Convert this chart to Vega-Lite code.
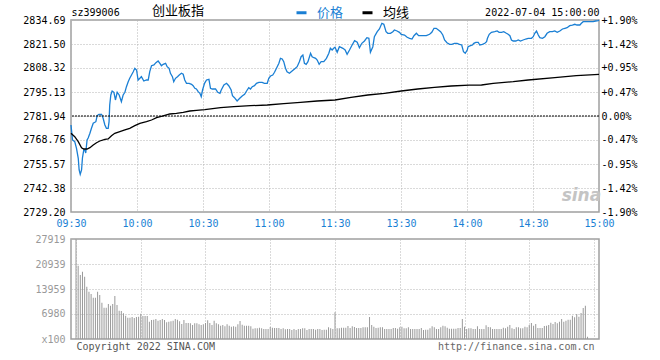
{
  "$schema": "https://vega.github.io/schema/vega-lite/v6.json",
  "padding": {"left": 22, "top": 3, "right": 5, "bottom": 0},
  "background": "white",
  "spacing": 4,
  "config": {
    "view": {"stroke": "#a0a0a0", "strokeWidth": 1.5},
    "axis": {"labelFont": "DejaVu Sans Mono", "labelFontSize": 10, "ticks": false, "domain": false, "gridColor": "#b4b4b4", "gridDash": [1, 2], "gridWidth": 1}
  },
  "datasets": {
    "line": [
      {"m":0,"v":2777.00,"s":"价格"},{"m":0.7,"v":2768.76,"s":"价格"},{"m":1.7,"v":2767.83,"s":"价格"},{"m":2.5,"v":2764.20,"s":"价格"},{"m":3.3,"v":2758.71,"s":"价格"},{"m":3.7,"v":2752.28,"s":"价格"},{"m":4.2,"v":2749.91,"s":"价格"},{"m":4.8,"v":2752.28,"s":"价格"},{"m":5.2,"v":2758.87,"s":"价格"},{"m":5.8,"v":2763.27,"s":"价格"},{"m":6.3,"v":2763.27,"s":"价格"},{"m":6.7,"v":2761.62,"s":"价格"},{"m":7.3,"v":2768.76,"s":"价格"},{"m":7.8,"v":2769.86,"s":"价格"},{"m":8.6,"v":2772.44,"s":"价格"},{"m":9.3,"v":2775.19,"s":"价格"},{"m":10.1,"v":2777.94,"s":"价格"},{"m":11.3,"v":2778.82,"s":"价格"},{"m":11.9,"v":2782.11,"s":"价格"},{"m":12.7,"v":2782.88,"s":"价格"},{"m":13.9,"v":2782.88,"s":"价格"},{"m":14.6,"v":2780.68,"s":"价格"},{"m":15.4,"v":2777.00,"s":"价格"},{"m":16.1,"v":2775.19,"s":"价格"},{"m":16.9,"v":2775.19,"s":"价格"},{"m":17.3,"v":2778.82,"s":"价格"},{"m":17.6,"v":2787.99,"s":"价格"},{"m":18.1,"v":2793.49,"s":"价格"},{"m":18.7,"v":2795.68,"s":"价格"},{"m":19.5,"v":2794.97,"s":"价格"},{"m":20.2,"v":2790.74,"s":"价格"},{"m":21,"v":2794.97,"s":"价格"},{"m":21.9,"v":2793.49,"s":"价格"},{"m":22.9,"v":2789.80,"s":"价格"},{"m":23.7,"v":2793.49,"s":"价格"},{"m":24.5,"v":2794.97,"s":"价格"},{"m":25.2,"v":2798.05,"s":"价格"},{"m":26,"v":2800.80,"s":"价格"},{"m":26.7,"v":2802.66,"s":"价格"},{"m":27.5,"v":2804.47,"s":"价格"},{"m":28.3,"v":2806.29,"s":"价格"},{"m":29,"v":2808.16,"s":"价格"},{"m":29.8,"v":2807.22,"s":"价格"},{"m":30.5,"v":2801.71,"s":"价格"},{"m":31.3,"v":2802.66,"s":"价格"},{"m":32,"v":2803.54,"s":"价格"},{"m":33.1,"v":2801.18,"s":"价格"},{"m":34.3,"v":2801.73,"s":"价格"},{"m":35.1,"v":2801.73,"s":"价格"},{"m":35.8,"v":2806.29,"s":"价格"},{"m":36.6,"v":2809.58,"s":"价格"},{"m":37.7,"v":2809.97,"s":"价格"},{"m":38.6,"v":2811.23,"s":"价格"},{"m":39.6,"v":2812.16,"s":"价格"},{"m":40.4,"v":2810.90,"s":"价格"},{"m":41.1,"v":2809.58,"s":"价格"},{"m":41.9,"v":2810.35,"s":"价格"},{"m":43,"v":2810.90,"s":"价格"},{"m":43.7,"v":2809.03,"s":"价格"},{"m":44.6,"v":2808.15,"s":"价格"},{"m":45.2,"v":2805.41,"s":"价格"},{"m":46.1,"v":2803.54,"s":"价格"},{"m":46.7,"v":2800.80,"s":"价格"},{"m":47.5,"v":2802.66,"s":"价格"},{"m":48.4,"v":2803.54,"s":"价格"},{"m":49.2,"v":2804.47,"s":"价格"},{"m":50.2,"v":2805.41,"s":"价格"},{"m":51,"v":2804.86,"s":"价格"},{"m":51.7,"v":2801.73,"s":"价格"},{"m":52.5,"v":2799.91,"s":"价格"},{"m":53.7,"v":2799.91,"s":"价格"},{"m":54.8,"v":2799.36,"s":"价格"},{"m":55.5,"v":2798.59,"s":"价格"},{"m":56.3,"v":2797.17,"s":"价格"},{"m":57,"v":2796.78,"s":"价格"},{"m":57.8,"v":2795.30,"s":"价格"},{"m":58.6,"v":2794.42,"s":"价格"},{"m":59.2,"v":2792.55,"s":"价格"},{"m":59.8,"v":2796.23,"s":"价格"},{"m":60.7,"v":2799.91,"s":"价格"},{"m":61.6,"v":2801.73,"s":"价格"},{"m":62.7,"v":2802.11,"s":"价格"},{"m":63.4,"v":2797.17,"s":"价格"},{"m":64.2,"v":2796.78,"s":"价格"},{"m":65.7,"v":2796.78,"s":"价格"},{"m":66.7,"v":2794.97,"s":"价格"},{"m":67.7,"v":2794.42,"s":"价格"},{"m":68.3,"v":2796.23,"s":"价格"},{"m":69.5,"v":2798.98,"s":"价格"},{"m":70.7,"v":2799.91,"s":"价格"},{"m":71.7,"v":2798.59,"s":"价格"},{"m":72.8,"v":2796.23,"s":"价格"},{"m":73.4,"v":2793.10,"s":"价格"},{"m":74.3,"v":2792.00,"s":"价格"},{"m":75.5,"v":2790.19,"s":"价格"},{"m":76.7,"v":2791.67,"s":"价格"},{"m":77.8,"v":2792.94,"s":"价格"},{"m":78.9,"v":2793.87,"s":"价格"},{"m":79.8,"v":2795.68,"s":"价格"},{"m":80.8,"v":2797.50,"s":"价格"},{"m":81.6,"v":2796.78,"s":"价格"},{"m":82.4,"v":2798.05,"s":"价格"},{"m":83.4,"v":2798.59,"s":"价格"},{"m":84.3,"v":2799.91,"s":"价格"},{"m":85.4,"v":2800.46,"s":"价格"},{"m":86.9,"v":2800.46,"s":"价格"},{"m":87.9,"v":2799.91,"s":"价格"},{"m":89.2,"v":2799.91,"s":"价格"},{"m":89.9,"v":2802.66,"s":"价格"},{"m":90.7,"v":2803.92,"s":"价格"},{"m":91.7,"v":2804.47,"s":"价格"},{"m":92.5,"v":2805.96,"s":"价格"},{"m":93.4,"v":2808.16,"s":"价格"},{"m":94.5,"v":2810.90,"s":"价格"},{"m":95.2,"v":2813.65,"s":"价格"},{"m":96,"v":2813.26,"s":"价格"},{"m":96.7,"v":2811.78,"s":"价格"},{"m":97.5,"v":2808.16,"s":"价格"},{"m":98.2,"v":2806.29,"s":"价格"},{"m":99.3,"v":2805.41,"s":"价格"},{"m":100.5,"v":2806.67,"s":"价格"},{"m":102,"v":2808.16,"s":"价格"},{"m":102.8,"v":2809.03,"s":"价格"},{"m":103.8,"v":2811.78,"s":"价格"},{"m":104.6,"v":2814.53,"s":"价格"},{"m":105.4,"v":2815.46,"s":"价格"},{"m":106.1,"v":2810.90,"s":"价格"},{"m":106.9,"v":2810.35,"s":"价格"},{"m":107.7,"v":2811.78,"s":"价格"},{"m":108.9,"v":2816.40,"s":"价格"},{"m":109.6,"v":2814.53,"s":"价格"},{"m":110.4,"v":2813.98,"s":"价格"},{"m":111.2,"v":2813.65,"s":"价格"},{"m":111.9,"v":2812.71,"s":"价格"},{"m":112.8,"v":2810.35,"s":"价格"},{"m":113.7,"v":2811.78,"s":"价格"},{"m":114.9,"v":2811.78,"s":"价格"},{"m":116.1,"v":2813.65,"s":"价格"},{"m":117.2,"v":2816.40,"s":"价格"},{"m":117.9,"v":2819.14,"s":"价格"},{"m":118.7,"v":2818.21,"s":"价格"},{"m":119.4,"v":2819.14,"s":"价格"},{"m":120,"v":2819.69,"s":"价格"},{"m":121,"v":2816.94,"s":"价格"},{"m":122,"v":2820.02,"s":"价格"},{"m":123.6,"v":2819.14,"s":"价格"},{"m":124.6,"v":2818.21,"s":"价格"},{"m":125.5,"v":2815.85,"s":"价格"},{"m":126.6,"v":2818.21,"s":"价格"},{"m":127.6,"v":2820.57,"s":"价格"},{"m":128.9,"v":2823.32,"s":"价格"},{"m":130.1,"v":2822.44,"s":"价格"},{"m":131.1,"v":2819.47,"s":"价格"},{"m":132.2,"v":2821.89,"s":"价格"},{"m":133.4,"v":2823.15,"s":"价格"},{"m":134.5,"v":2824.97,"s":"价格"},{"m":135.4,"v":2824.64,"s":"价格"},{"m":136.1,"v":2816.94,"s":"价格"},{"m":137.2,"v":2820.02,"s":"价格"},{"m":137.9,"v":2825.52,"s":"价格"},{"m":139.2,"v":2828.26,"s":"价格"},{"m":140.2,"v":2829.75,"s":"价格"},{"m":141.3,"v":2832.88,"s":"价格"},{"m":142.2,"v":2832.33,"s":"价格"},{"m":143.2,"v":2828.26,"s":"价格"},{"m":144,"v":2827.38,"s":"价格"},{"m":145.2,"v":2827.38,"s":"价格"},{"m":146.3,"v":2828.26,"s":"价格"},{"m":147,"v":2829.20,"s":"价格"},{"m":148.2,"v":2828.65,"s":"价格"},{"m":149.3,"v":2827.93,"s":"价格"},{"m":150.1,"v":2826.83,"s":"价格"},{"m":151.6,"v":2826.45,"s":"价格"},{"m":152.8,"v":2825.19,"s":"价格"},{"m":153.9,"v":2824.64,"s":"价格"},{"m":155,"v":2824.25,"s":"价格"},{"m":155.9,"v":2826.06,"s":"价格"},{"m":157,"v":2827.38,"s":"价格"},{"m":158,"v":2826.06,"s":"价格"},{"m":159.5,"v":2826.06,"s":"价格"},{"m":161.5,"v":2826.06,"s":"价格"},{"m":163,"v":2826.83,"s":"价格"},{"m":164,"v":2827.93,"s":"价格"},{"m":165,"v":2830.13,"s":"价格"},{"m":166,"v":2830.13,"s":"价格"},{"m":167,"v":2829.20,"s":"价格"},{"m":168,"v":2828.26,"s":"价格"},{"m":169,"v":2826.45,"s":"价格"},{"m":169.8,"v":2823.70,"s":"价格"},{"m":170.9,"v":2822.22,"s":"价格"},{"m":172.1,"v":2821.34,"s":"价格"},{"m":173.1,"v":2821.34,"s":"价格"},{"m":174.3,"v":2821.89,"s":"价格"},{"m":175.5,"v":2821.89,"s":"价格"},{"m":176.6,"v":2821.34,"s":"价格"},{"m":177.6,"v":2820.96,"s":"价格"},{"m":178.4,"v":2817.27,"s":"价格"},{"m":179.2,"v":2816.40,"s":"价格"},{"m":180.1,"v":2818.21,"s":"价格"},{"m":180.5,"v":2820.02,"s":"价格"},{"m":181.6,"v":2820.57,"s":"价格"},{"m":182.5,"v":2820.96,"s":"价格"},{"m":183.1,"v":2821.89,"s":"价格"},{"m":184,"v":2822.44,"s":"价格"},{"m":185.1,"v":2822.44,"s":"价格"},{"m":185.8,"v":2820.96,"s":"价格"},{"m":187,"v":2821.34,"s":"价格"},{"m":188.1,"v":2821.89,"s":"价格"},{"m":188.9,"v":2822.77,"s":"价格"},{"m":189.3,"v":2824.64,"s":"价格"},{"m":190.1,"v":2826.83,"s":"价格"},{"m":191.1,"v":2827.93,"s":"价格"},{"m":192.6,"v":2828.26,"s":"价格"},{"m":193.7,"v":2828.65,"s":"价格"},{"m":194.6,"v":2827.93,"s":"价格"},{"m":195.7,"v":2827.93,"s":"价格"},{"m":196.7,"v":2828.26,"s":"价格"},{"m":197.9,"v":2827.38,"s":"价格"},{"m":198.7,"v":2826.83,"s":"价格"},{"m":199.5,"v":2826.06,"s":"价格"},{"m":200.2,"v":2823.70,"s":"价格"},{"m":201,"v":2823.15,"s":"价格"},{"m":202.2,"v":2823.15,"s":"价格"},{"m":203.3,"v":2823.70,"s":"价格"},{"m":204.3,"v":2823.15,"s":"价格"},{"m":205.5,"v":2823.70,"s":"价格"},{"m":206.7,"v":2824.25,"s":"价格"},{"m":207.8,"v":2824.64,"s":"价格"},{"m":209.3,"v":2824.64,"s":"价格"},{"m":210.1,"v":2825.52,"s":"价格"},{"m":210.8,"v":2827.38,"s":"价格"},{"m":211.6,"v":2828.65,"s":"价格"},{"m":212.4,"v":2826.45,"s":"价格"},{"m":213.1,"v":2824.97,"s":"价格"},{"m":214.3,"v":2824.64,"s":"价格"},{"m":215.4,"v":2825.52,"s":"价格"},{"m":216.4,"v":2827.38,"s":"价格"},{"m":217.6,"v":2828.26,"s":"价格"},{"m":218.8,"v":2828.26,"s":"价格"},{"m":219.9,"v":2828.65,"s":"价格"},{"m":221,"v":2827.93,"s":"价格"},{"m":222.2,"v":2828.65,"s":"价格"},{"m":223.4,"v":2829.75,"s":"价格"},{"m":224.5,"v":2830.13,"s":"价格"},{"m":225.5,"v":2830.46,"s":"价格"},{"m":226.7,"v":2831.56,"s":"价格"},{"m":227.9,"v":2831.94,"s":"价格"},{"m":229,"v":2832.33,"s":"价格"},{"m":230,"v":2831.94,"s":"价格"},{"m":231.3,"v":2831.94,"s":"价格"},{"m":232,"v":2832.88,"s":"价格"},{"m":232.8,"v":2833.76,"s":"价格"},{"m":234.3,"v":2833.76,"s":"价格"},{"m":235.8,"v":2833.76,"s":"价格"},{"m":237.3,"v":2833.76,"s":"价格"},{"m":238.5,"v":2834.14,"s":"价格"},{"m":239.6,"v":2834.31,"s":"价格"},{"m":240,"v":2834.69,"s":"价格"},
      {"m":0,"v":2772.44,"s":"均线"},{"m":1.7,"v":2770.57,"s":"均线"},{"m":3.3,"v":2767.83,"s":"均线"},{"m":4.8,"v":2764.53,"s":"均线"},{"m":5.8,"v":2763.82,"s":"均线"},{"m":7.3,"v":2763.82,"s":"均线"},{"m":8.6,"v":2764.53,"s":"均线"},{"m":10.1,"v":2766.02,"s":"均线"},{"m":11.6,"v":2767.28,"s":"均线"},{"m":13.1,"v":2768.21,"s":"均线"},{"m":15.4,"v":2769.15,"s":"均线"},{"m":16.9,"v":2769.31,"s":"均线"},{"m":18.4,"v":2771.12,"s":"均线"},{"m":19.9,"v":2772.44,"s":"均线"},{"m":22.2,"v":2773.32,"s":"均线"},{"m":24.5,"v":2774.26,"s":"均线"},{"m":26.7,"v":2775.19,"s":"均线"},{"m":29,"v":2776.62,"s":"均线"},{"m":31.3,"v":2777.94,"s":"均线"},{"m":34.3,"v":2778.82,"s":"均线"},{"m":36.6,"v":2779.75,"s":"均线"},{"m":38.9,"v":2781.01,"s":"均线"},{"m":41.9,"v":2781.95,"s":"均线"},{"m":44.9,"v":2783.05,"s":"均线"},{"m":47.9,"v":2783.43,"s":"均线"},{"m":51,"v":2783.98,"s":"均线"},{"m":54,"v":2784.69,"s":"均线"},{"m":57,"v":2785.08,"s":"均线"},{"m":60.8,"v":2785.41,"s":"均线"},{"m":68,"v":2786.51,"s":"均线"},{"m":74,"v":2787.06,"s":"均线"},{"m":81.6,"v":2787.61,"s":"均线"},{"m":89.2,"v":2787.99,"s":"均线"},{"m":96.7,"v":2788.71,"s":"均线"},{"m":104.3,"v":2789.47,"s":"均线"},{"m":111.9,"v":2790.19,"s":"均线"},{"m":120,"v":2790.74,"s":"均线"},{"m":127.3,"v":2792.22,"s":"均线"},{"m":134.9,"v":2793.49,"s":"均线"},{"m":142.5,"v":2794.42,"s":"均线"},{"m":150.1,"v":2795.68,"s":"均线"},{"m":157.6,"v":2796.78,"s":"均线"},{"m":165.2,"v":2797.72,"s":"均线"},{"m":172.8,"v":2798.43,"s":"均线"},{"m":181,"v":2798.90,"s":"均线"},{"m":186.6,"v":2798.98,"s":"均线"},{"m":191.9,"v":2799.91,"s":"均线"},{"m":201,"v":2800.80,"s":"均线"},{"m":207.8,"v":2801.73,"s":"均线"},{"m":219.9,"v":2802.99,"s":"均线"},{"m":229.7,"v":2804.09,"s":"均线"},{"m":240,"v":2804.86,"s":"均线"}
    ],
    "ref": [{"close": 2781.94}],
    "vol": [
      {"m":0,"vol":27919},{"m":1,"vol":20473},{"m":2,"vol":17868},{"m":3,"vol":18798},{"m":4,"vol":17402},{"m":5,"vol":14610},{"m":6,"vol":13214},{"m":7,"vol":12563},{"m":8,"vol":11540},{"m":9,"vol":11540},{"m":10,"vol":13214},{"m":11,"vol":12284},{"m":12,"vol":10143},{"m":13,"vol":8748},{"m":14,"vol":8748},{"m":15,"vol":9771},{"m":16,"vol":9306},{"m":17,"vol":9771},{"m":18,"vol":12005},{"m":19,"vol":9492},{"m":20,"vol":7910},{"m":21,"vol":7817},{"m":22,"vol":7166},{"m":23,"vol":6514},{"m":24,"vol":5956},{"m":25,"vol":5956},{"m":26,"vol":6142},{"m":27,"vol":5863},{"m":28,"vol":6142},{"m":29,"vol":6235},{"m":30,"vol":7073},{"m":31,"vol":6421},{"m":32,"vol":6421},{"m":33,"vol":6421},{"m":34,"vol":4839},{"m":35,"vol":5304},{"m":36,"vol":5397},{"m":37,"vol":5584},{"m":38,"vol":5118},{"m":39,"vol":5304},{"m":40,"vol":5584},{"m":41,"vol":5304},{"m":42,"vol":4653},{"m":43,"vol":4839},{"m":44,"vol":4932},{"m":45,"vol":5118},{"m":46,"vol":5584},{"m":47,"vol":5397},{"m":48,"vol":4932},{"m":49,"vol":4188},{"m":50,"vol":5304},{"m":51,"vol":4467},{"m":52,"vol":4467},{"m":53,"vol":4374},{"m":54,"vol":3909},{"m":55,"vol":4374},{"m":56,"vol":4374},{"m":57,"vol":4095},{"m":58,"vol":3909},{"m":59,"vol":4095},{"m":60,"vol":4467},{"m":61,"vol":5211},{"m":62,"vol":4467},{"m":63,"vol":3909},{"m":64,"vol":5118},{"m":65,"vol":4374},{"m":66,"vol":4095},{"m":67,"vol":3722},{"m":68,"vol":3909},{"m":69,"vol":3536},{"m":70,"vol":4095},{"m":71,"vol":3722},{"m":72,"vol":3443},{"m":73,"vol":3536},{"m":74,"vol":3443},{"m":75,"vol":4095},{"m":76,"vol":5025},{"m":77,"vol":4002},{"m":78,"vol":3722},{"m":79,"vol":3722},{"m":80,"vol":3722},{"m":81,"vol":3536},{"m":82,"vol":2885},{"m":83,"vol":2978},{"m":84,"vol":2978},{"m":85,"vol":3164},{"m":86,"vol":2978},{"m":87,"vol":2792},{"m":88,"vol":2792},{"m":89,"vol":2792},{"m":90,"vol":3350},{"m":91,"vol":3164},{"m":92,"vol":3071},{"m":93,"vol":3071},{"m":94,"vol":3071},{"m":95,"vol":2792},{"m":96,"vol":2978},{"m":97,"vol":2699},{"m":98,"vol":2792},{"m":99,"vol":2792},{"m":100,"vol":2513},{"m":101,"vol":2792},{"m":102,"vol":2513},{"m":103,"vol":2792},{"m":104,"vol":2792},{"m":105,"vol":2978},{"m":106,"vol":2978},{"m":107,"vol":2513},{"m":108,"vol":2792},{"m":109,"vol":2792},{"m":110,"vol":2792},{"m":111,"vol":2606},{"m":112,"vol":2792},{"m":113,"vol":2792},{"m":114,"vol":2513},{"m":115,"vol":2606},{"m":116,"vol":2606},{"m":117,"vol":3257},{"m":118,"vol":2978},{"m":119,"vol":2792},
      {"m":120,"vol":7445},{"m":121,"vol":2978},{"m":122,"vol":2978},{"m":123,"vol":3164},{"m":124,"vol":3164},{"m":125,"vol":3164},{"m":126,"vol":3629},{"m":127,"vol":3071},{"m":128,"vol":3536},{"m":129,"vol":3350},{"m":130,"vol":3071},{"m":131,"vol":3071},{"m":132,"vol":3071},{"m":133,"vol":3257},{"m":134,"vol":3257},{"m":135,"vol":3257},{"m":136,"vol":6142},{"m":137,"vol":3909},{"m":138,"vol":3443},{"m":139,"vol":3071},{"m":140,"vol":3164},{"m":141,"vol":3257},{"m":142,"vol":3257},{"m":143,"vol":2792},{"m":144,"vol":2792},{"m":145,"vol":2792},{"m":146,"vol":2792},{"m":147,"vol":3071},{"m":148,"vol":3071},{"m":149,"vol":2885},{"m":150,"vol":3257},{"m":151,"vol":3443},{"m":152,"vol":2978},{"m":153,"vol":2978},{"m":154,"vol":3257},{"m":155,"vol":2792},{"m":156,"vol":2792},{"m":157,"vol":2792},{"m":158,"vol":2792},{"m":159,"vol":2792},{"m":160,"vol":3071},{"m":161,"vol":2513},{"m":162,"vol":2606},{"m":163,"vol":2606},{"m":164,"vol":2978},{"m":165,"vol":3536},{"m":166,"vol":3257},{"m":167,"vol":2792},{"m":168,"vol":2792},{"m":169,"vol":3257},{"m":170,"vol":3722},{"m":171,"vol":3536},{"m":172,"vol":3164},{"m":173,"vol":2885},{"m":174,"vol":2885},{"m":175,"vol":2885},{"m":176,"vol":2885},{"m":177,"vol":3071},{"m":178,"vol":3071},{"m":179,"vol":5584},{"m":180,"vol":3443},{"m":181,"vol":2792},{"m":182,"vol":2978},{"m":183,"vol":2978},{"m":184,"vol":2792},{"m":185,"vol":2792},{"m":186,"vol":3536},{"m":187,"vol":2792},{"m":188,"vol":2792},{"m":189,"vol":2792},{"m":190,"vol":3815},{"m":191,"vol":3350},{"m":192,"vol":3257},{"m":193,"vol":2792},{"m":194,"vol":2792},{"m":195,"vol":2792},{"m":196,"vol":2792},{"m":197,"vol":2792},{"m":198,"vol":3164},{"m":199,"vol":2978},{"m":200,"vol":3443},{"m":201,"vol":3909},{"m":202,"vol":2978},{"m":203,"vol":2792},{"m":204,"vol":3257},{"m":205,"vol":3257},{"m":206,"vol":2978},{"m":207,"vol":2978},{"m":208,"vol":3443},{"m":209,"vol":3257},{"m":210,"vol":3909},{"m":211,"vol":4467},{"m":212,"vol":3722},{"m":213,"vol":4188},{"m":214,"vol":3071},{"m":215,"vol":3071},{"m":216,"vol":3071},{"m":217,"vol":3629},{"m":218,"vol":3722},{"m":219,"vol":3909},{"m":220,"vol":4560},{"m":221,"vol":4188},{"m":222,"vol":4746},{"m":223,"vol":4374},{"m":224,"vol":4839},{"m":225,"vol":5584},{"m":226,"vol":4839},{"m":227,"vol":5118},{"m":228,"vol":5397},{"m":229,"vol":5397},{"m":230,"vol":6514},{"m":231,"vol":6049},{"m":232,"vol":6980},{"m":233,"vol":6235},{"m":234,"vol":7259},{"m":235,"vol":8655},{"m":236,"vol":9306},{"m":237,"vol":651}
    ]
  },
  "vconcat": [
    {
      "width": 528,
      "height": 192,
      "layer": [
        {
          "data": {"name": "line"},
          "mark": {"type": "line", "strokeWidth": 1.3},
          "encoding": {
            "x": {"field": "m", "type": "quantitative", "title": null,
              "scale": {"domain": [0, 240], "nice": false, "zero": false},
              "axis": {"values": [0, 30, 60, 90, 120, 150, 180, 210, 240], "labelExpr": "['09:30','10:00','10:30','11:00','11:30','13:30','14:00','14:30','15:00'][round(datum.value/30)]", "labelColor": "#1a7fd4", "labelFlush": false, "labelOverlap": false, "labelPadding": 6, "grid": true}},
            "y": {"field": "v", "type": "quantitative", "title": null,
              "scale": {"domain": [2729.20, 2834.69], "nice": false, "zero": false},
              "axis": {"values": [2729.20, 2742.38, 2755.57, 2768.76, 2781.94, 2795.13, 2808.32, 2821.50, 2834.69], "labelExpr": "format(datum.value, '.2f')", "labelPadding": 6, "labelOverlap": false, "grid": true,
                "encode": {"labels": {"update": {"fill": {"signal": "datum.value > 2782 ? '#ff0000' : (datum.value < 2781.9 ? '#008000' : '#000000')"}}}}}},
            "color": {"field": "s", "type": "nominal",
              "scale": {"domain": ["价格", "均线"], "range": ["#1a7fd4", "#000000"]},
              "legend": {"orient": "none", "legendX": 224, "legendY": -14, "direction": "horizontal", "title": null, "symbolType": "stroke", "symbolStrokeWidth": 3, "symbolSize": 100, "labelFont": "Noto Sans CJK SC", "labelFontSize": 13, "labelOffset": 9, "columnPadding": 12,
                "encode": {"labels": {"update": {"fill": {"signal": "datum.value == '价格' ? '#1a7fd4' : '#000000'"}}}}}}
          }
        },
        {
          "data": {"name": "ref"},
          "mark": {"type": "rule", "color": "#000000", "strokeDash": [2, 1], "strokeWidth": 1},
          "encoding": {
            "y": {"field": "close", "type": "quantitative", "title": null,
              "scale": {"domain": [2729.20, 2834.69], "nice": false, "zero": false},
              "axis": {"orient": "right", "values": [2729.20, 2742.38, 2755.57, 2768.76, 2781.94, 2795.13, 2808.32, 2821.50, 2834.69], "labelExpr": "(datum.value > 2782 ? '+' : (datum.value < 2781.9 ? '-' : '')) + format(abs(datum.value/2781.94 - 1)*100, '.2f') + '%'", "labelPadding": 2, "labelOverlap": false, "grid": false,
                "encode": {"labels": {"update": {"fill": {"signal": "datum.value > 2782 ? '#ff0000' : (datum.value < 2781.9 ? '#008000' : '#000000')"}}}}}}
          }
        },
        {
          "data": {"name": "ref"},
          "mark": {"type": "text", "text": "sina", "font": "DejaVu Sans", "fontSize": 17, "fontStyle": "italic", "fontWeight": "bold", "color": "#c4c4c4"},
          "encoding": {
            "x": {"datum": 232, "type": "quantitative", "title": null,
              "scale": {"domain": [0, 240], "nice": false, "zero": false},
              "axis": {"orient": "top", "values": [0, 48.4, 240], "labelExpr": "datum.value == 0 ? 'sz399006' : (datum.value == 240 ? '2022-07-04 15:00:00' : '创业板指')", "labelColor": "#000000", "labelFlush": true, "labelOverlap": false, "labelPadding": 3, "grid": false,
                "labelFont": {"condition": {"test": "datum.value > 1 && datum.value < 239", "value": "Noto Sans CJK SC"}, "value": "DejaVu Sans Mono"},
                "labelFontSize": {"condition": {"test": "datum.value > 1 && datum.value < 239", "value": 13}, "value": 10}}},
            "y": {"datum": 2738, "type": "quantitative", "scale": {"domain": [2729.20, 2834.69], "nice": false, "zero": false}, "axis": null}
          }
        }
      ],
      "resolve": {"scale": {"y": "independent"}, "axis": {"x": "independent"}}
    },
    {
      "width": 528,
      "height": 100,
      "data": {"name": "vol"},
      "mark": {"type": "bar", "color": "#999999", "size": 1},
      "encoding": {
        "x": {"field": "m", "type": "quantitative", "title": null,
          "scale": {"domain": [0, 240], "nice": false, "zero": false},
          "axis": {"values": [0, 30, 60, 90, 120, 150, 180, 210, 240], "labelExpr": "datum.value == 0 ? 'Copyright 2022 SINA.COM' : (datum.value == 240 ? 'http://finance.sina.com.cn' : '')", "labelFlush": false, "labelOverlap": false, "labelPadding": 2, "grid": true,
            "labelAlign": {"condition": {"test": "datum.value < 1", "value": "left"}, "value": "right"},
            "labelColor": {"condition": {"test": "datum.value < 1", "value": "#555555"}, "value": "#666666"}}},
        "y": {"field": "vol", "type": "quantitative", "title": null,
          "scale": {"domain": [0, 27919], "nice": false},
          "axis": {"values": [0, 6980, 13959, 20939, 27919], "labelExpr": "datum.value == 0 ? 'x100' : format(datum.value, 'd')", "labelColor": "#999999", "labelPadding": 6, "labelOverlap": false, "grid": true}}
      }
    }
  ]
}
